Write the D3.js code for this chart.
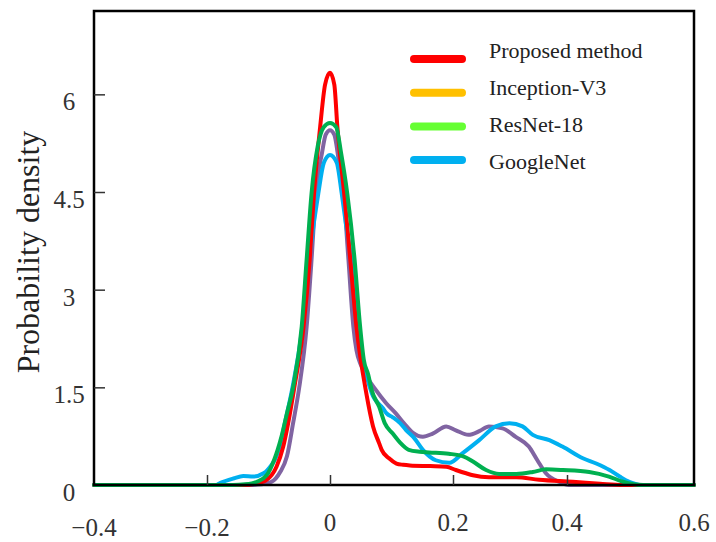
<!DOCTYPE html>
<html>
<head>
<meta charset="utf-8">
<script src="https://cdn.jsdelivr.net/npm/d3@7/dist/d3.min.js"></script>
<style>
  html, body { margin: 0; padding: 0; background: #fff; }
  svg { display: block; }
</style>
</head>
<body>
<svg id="chart" width="716" height="542"></svg>
<script>
// ---- Data ----
const xTicks = [-0.4, -0.2, 0, 0.2, 0.4, 0.6];
const yTicks = [0, 1.5, 3, 4.5, 6];
const yLabel = "Probability density";

const legendNames = ["Proposed method", "Inception-V3", "ResNet-18", "GoogleNet"];
const legendColors = ["#ff0000", "#ffc000", "#66ff33", "#00b0f0"];

// curves as drawn (colours in the plot differ from the legend in the original)
const purpleX = [-0.4, -0.130, -0.111, -0.095, -0.081, -0.070, -0.060, -0.050, -0.038, -0.030, -0.023, -0.013, -0.007, 0, 0.007, 0.014, 0.022, 0.030, 0.038, 0.043, 0.050, 0.060, 0.073, 0.091, 0.107, 0.120, 0.135, 0.151, 0.167, 0.189, 0.205, 0.227, 0.247, 0.263, 0.287, 0.310, 0.333, 0.348, 0.363, 0.386, 0.403, 0.6];
const purpleY = [0, 0, 0.01, 0.05, 0.2, 0.44, 0.95, 1.5, 2.43, 3.46, 4.48, 5.1, 5.38, 5.45, 5.38, 5.0, 4.48, 3.46, 2.43, 2.07, 1.85, 1.66, 1.48, 1.26, 1.1, 0.95, 0.8, 0.74, 0.79, 0.9, 0.84, 0.77, 0.83, 0.9, 0.87, 0.74, 0.59, 0.38, 0.18, 0.05, 0, 0];

const cyanX = [-0.4, -0.186, -0.179, -0.157, -0.141, -0.125, -0.108, -0.095, -0.089, -0.081, -0.073, -0.062, -0.045, -0.034, -0.019, -0.010, 0, 0.011, 0.019, 0.026, 0.035, 0.046, 0.054, 0.068, 0.086, 0.092, 0.102, 0.114, 0.124, 0.137, 0.151, 0.172, 0.194, 0.217, 0.246, 0.275, 0.299, 0.322, 0.340, 0.369, 0.392, 0.425, 0.446, 0.467, 0.483, 0.498, 0.519, 0.6];
const cyanY = [0, 0, 0.03, 0.10, 0.14, 0.13, 0.18, 0.31, 0.40, 0.62, 0.97, 1.45, 2.43, 3.46, 4.48, 4.95, 5.07, 4.95, 4.48, 4.0, 3.46, 2.43, 1.92, 1.41, 1.18, 1.1, 1.04, 0.95, 0.84, 0.72, 0.54, 0.38, 0.34, 0.49, 0.69, 0.9, 0.95, 0.9, 0.77, 0.69, 0.59, 0.41, 0.33, 0.23, 0.13, 0.05, 0, 0];

const redX = [-0.4, -0.141, -0.122, -0.103, -0.087, -0.076, -0.068, -0.058, -0.043, -0.033, -0.026, -0.016, -0.008, 0, 0.007, 0.012, 0.023, 0.033, 0.043, 0.059, 0.070, 0.080, 0.084, 0.096, 0.108, 0.119, 0.130, 0.163, 0.189, 0.205, 0.223, 0.235, 0.263, 0.311, 0.351, 0.409, 0.452, 0.488, 0.6];
const redY = [0, 0, 0.02, 0.08, 0.28, 0.59, 0.95, 1.5, 2.43, 3.46, 4.48, 5.5, 6.15, 6.33, 6.15, 5.5, 4.48, 3.46, 2.43, 1.41, 0.9, 0.64, 0.54, 0.41, 0.33, 0.31, 0.30, 0.29, 0.28, 0.23, 0.18, 0.15, 0.12, 0.12, 0.08, 0.05, 0.02, 0, 0];

const greenX = [-0.4, -0.158, -0.138, -0.119, -0.103, -0.091, -0.079, -0.070, -0.060, -0.046, -0.038, -0.030, -0.020, -0.010, 0, 0.010, 0.018, 0.028, 0.040, 0.049, 0.055, 0.062, 0.068, 0.080, 0.089, 0.102, 0.114, 0.128, 0.146, 0.161, 0.193, 0.218, 0.235, 0.258, 0.281, 0.311, 0.340, 0.363, 0.393, 0.435, 0.466, 0.488, 0.520, 0.6];
const greenY = [0, 0, 0.01, 0.05, 0.15, 0.38, 0.74, 1.1, 1.5, 2.43, 3.46, 4.48, 5.2, 5.5, 5.56, 5.5, 5.1, 4.48, 3.46, 2.43, 1.92, 1.7, 1.45, 1.2, 0.95, 0.79, 0.65, 0.54, 0.51, 0.5, 0.48, 0.44, 0.36, 0.23, 0.17, 0.17, 0.2, 0.24, 0.23, 0.2, 0.13, 0.05, 0, 0];

const seriesX = [purpleX, cyanX, redX, greenX];
const seriesY = [purpleY, cyanY, redY, greenY];
const seriesColors = ["#8064a2", "#00b0f0", "#ff0000", "#00b050"];

// ---- Layout ----
const svg = d3.select("#chart");
const plotL = 94, plotR = 694, plotT = 11, plotB = 485;

// piecewise scale, matching the uneven tick spacing of the original figure
const x = d3.scaleLinear()
  .domain(xTicks)
  .range([94, 207, 330, 453, 567, 694]);
const y = d3.scaleLinear().domain([0, 7.28]).range([plotB, plotT]);

// curves
const line = d3.line()
  .x(d => x(d[0]))
  .y(d => y(d[1]))
  .curve(d3.curveMonotoneX);

seriesX.forEach((xs, i) => {
  const pts = xs.map((v, j) => [v, seriesY[i][j]]);
  svg.append("path")
    .attr("d", line(pts))
    .attr("fill", "none")
    .attr("stroke", seriesColors[i])
    .attr("stroke-width", 4)
    .attr("stroke-linejoin", "round")
    .attr("stroke-linecap", "round");
});

// frame
svg.append("rect")
  .attr("x", plotL).attr("y", plotT)
  .attr("width", plotR - plotL).attr("height", plotB - plotT)
  .attr("fill", "none").attr("stroke", "#000").attr("stroke-width", 2.5);

// y axis (ticks inside)
const yAxis = d3.axisRight(y).tickValues(yTicks).tickSize(11).tickFormat("");
const gy = svg.append("g").attr("transform", `translate(${plotL},0)`).call(yAxis);
gy.select(".domain").remove();
gy.selectAll(".tick line").attr("stroke", "#333").attr("stroke-width", 1.5)
  .filter(d => d === 0).remove();

svg.selectAll(".ylab").data(yTicks).enter().append("text")
  .attr("x", 69).attr("y", d => y(d) + 16)
  .attr("text-anchor", "middle")
  .attr("font-family", "Liberation Serif, serif")
  .attr("font-size", 25).attr("fill", "#333")
  .text(d => String(d));

// x axis (ticks inside)
const xAxis = d3.axisTop(x).tickValues(xTicks.slice(1, -1)).tickSize(10).tickFormat("");
const gx = svg.append("g").attr("transform", `translate(0,${plotB})`).call(xAxis);
gx.select(".domain").remove();
gx.selectAll(".tick line").attr("stroke", "#333").attr("stroke-width", 1.5);

svg.selectAll(".xlab").data(xTicks).enter().append("text")
  .attr("x", d => x(d)).attr("y", d => d < 0 ? 536 : 531)
  .attr("text-anchor", "middle")
  .attr("font-family", "Liberation Serif, serif")
  .attr("font-size", 25).attr("fill", "#333")
  .text(d => d < 0 ? "\u2212" + Math.abs(d) : String(d));

// y label
svg.append("text")
  .attr("transform", "translate(39,252) rotate(-90)")
  .attr("text-anchor", "middle")
  .attr("font-family", "Liberation Serif, serif")
  .attr("font-size", 32).attr("fill", "#222")
  .text(yLabel);

// legend
const lg = svg.append("g");
legendNames.forEach((name, i) => {
  lg.append("line")
    .attr("x1", 414).attr("x2", 462)
    .attr("y1", 59 + i * 33.7).attr("y2", 59 + i * 33.7)
    .attr("stroke", legendColors[i]).attr("stroke-width", 8)
    .attr("stroke-linecap", "round");
  lg.append("text")
    .attr("x", 489).attr("y", 58 + i * 37)
    .attr("font-family", "Liberation Serif, serif")
    .attr("font-size", 22).attr("fill", "#222")
    .text(name);
});
</script>
</body>
</html>
